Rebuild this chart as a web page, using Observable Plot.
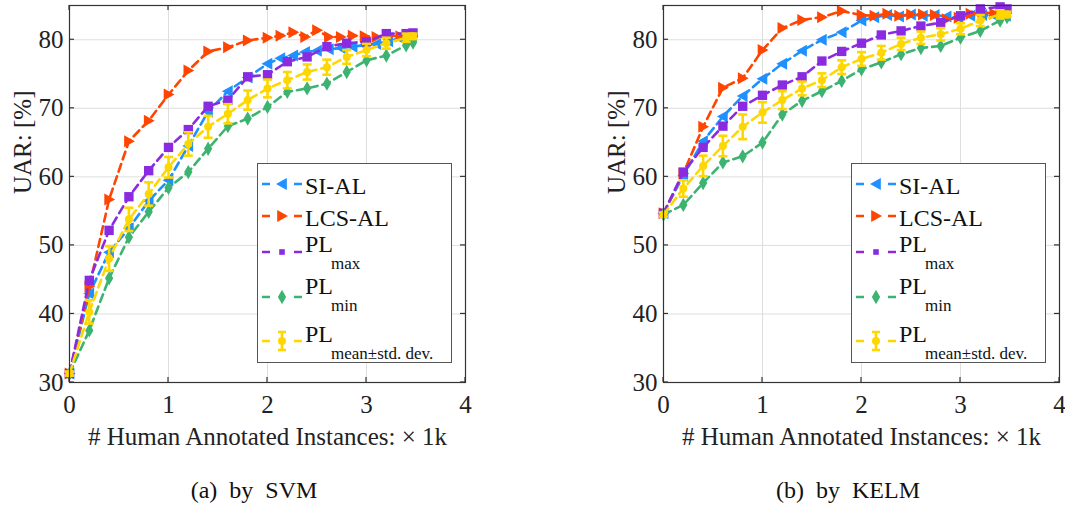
<!DOCTYPE html>
<html><head><meta charset="utf-8">
<script src="https://cdn.jsdelivr.net/npm/d3@7"></script>
<script src="https://cdn.jsdelivr.net/npm/@observablehq/plot@0.6"></script>
<style>
body{margin:0;background:#fff;font-family:"Liberation Serif","Times New Roman",Times,"DejaVu Serif",serif;}
#wrap{position:relative;width:1065px;height:509px;overflow:hidden;background:#fff}
.panel{position:absolute;top:0}
.caption{position:absolute;font-size:24px;text-align:center;width:300px;color:#111;word-spacing:6px}
.legend{position:absolute;box-sizing:border-box;border:1.5px solid #555;background:#fff;width:195px;height:200px}
svg text{font-family:"Liberation Serif","Times New Roman",Times,"DejaVu Serif",serif !important;}
</style></head>
<body><div id="wrap"></div>
<script>
// ---- data ----
const xTicks = [0, 1, 2, 3, 4];
const yTicks = [30, 40, 50, 60, 70, 80];
const alX = [0,0.2,0.4,0.6,0.8,1.0,1.2,1.4,1.6,1.8,2.0,2.13,2.26,2.38,2.5,2.62,2.74,2.86,2.98,3.1,3.22,3.34,3.46];
const plX = [0,0.2,0.4,0.6,0.8,1.0,1.2,1.4,1.6,1.8,2.0,2.2,2.4,2.6,2.8,3.0,3.2,3.4,3.47];

const svmSI   = [31.3,43,49,52.5,56.5,59.5,64.5,69.5,72.5,74.5,76.5,77.3,77.7,78.2,78.4,78.6,78.8,79,79.2,79.4,79.8,80.2,80.5];
const svmLCS  = [31.3,44,56.7,65.2,68.2,72,75.5,78.3,78.9,79.9,80.3,80.6,81.1,80.4,81.4,80.4,80.4,80.6,80.5,80.4,80.6,80.5,80.5];
const svmMax  = [31.3,44.9,52.2,57.1,60.9,64.3,66.9,70.3,71.2,74.6,74.9,76.8,77.5,79,79.5,79.7,80.9,80.9,81];
const svmMin  = [31.3,37.6,45.2,51.2,54.9,58.4,60.7,64.1,67.4,68.5,70.2,72.4,72.9,73.6,75.3,77,77.7,79.2,79.6];
const svmMean = [31.3,40.3,48.1,53.8,57.5,61.4,64.8,67.3,69.2,71.2,72.9,74.1,75.3,76,77.5,78.5,79.5,80.3,80.5];
const svmStd  = [0.3,1.7,1.8,1.7,1.7,1.5,1.7,1.6,1.4,1.4,1.3,1.2,1.1,1.1,1.0,0.9,0.8,0.6,0.4];

const kelmSI   = [54.7,60.2,65.2,68.8,71.8,74.3,76.5,78.4,80,81.1,82.8,83.3,83.6,83.4,83.7,83.5,83.6,83.4,83.2,83.5,83.6,83.5,83.5];
const kelmLCS  = [54.7,60.5,67.3,73,74.4,78.5,81.7,82.9,83.3,84.2,83.6,83.5,83.8,83.5,83.7,83.7,83.6,83.0,83.2,83.8,84.0,83.8,83.8];
const kelmMax  = [54.7,60.7,64.3,67.4,70.3,71.9,73.4,74.6,76.9,78.3,79.5,80.7,81.3,82,82.5,83.5,84.5,84.8,84.5];
const kelmMin  = [54.5,55.9,59.1,62.1,63,65,69.1,71.1,72.5,74,75.7,76.7,77.9,78.8,79.1,80.3,81.3,82.8,83.3];
const kelmMean = [54.5,58.3,61.6,64.5,67.3,69.4,71.2,72.9,74.1,76,77.2,78.1,79.4,80.3,80.8,81.6,82.8,83.7,83.7];
const kelmStd  = [0.3,1.2,1.5,1.5,1.8,1.5,1.3,1.0,1.0,1.0,1.0,1.0,0.9,0.9,0.9,0.8,0.8,0.6,0.4];

const seriesNames = ["SI-AL", "LCS-AL", "PL", "PL", "PL"];
const seriesSubs = ["", "", "max", "min", "mean\u00b1std. dev."];
const colors = ["#1E90FF", "#FF4500", "#8A2BE2", "#3CB371", "#FFD700"];
const xLabel = "# Human Annotated Instances: \u00d7 1k";
const yLabel = "UAR: [%]";
const captions = ["(a) by SVM", "(b) by KELM"];

// ---- symbols ----
const symLeft = {draw(c, s){const r=Math.sqrt(s/Math.PI); c.moveTo(-r,0); c.lineTo(r*0.8,-r); c.lineTo(r*0.8,r); c.closePath();}};
const symRight = {draw(c, s){const r=Math.sqrt(s/Math.PI); c.moveTo(r,0); c.lineTo(-r*0.8,-r); c.lineTo(-r*0.8,r); c.closePath();}};
const symSquare = {draw(c, s){const r=Math.sqrt(s/Math.PI)*0.85; c.rect(-r,-r,2*r,2*r);}};
const symDiamond = {draw(c, s){const r=Math.sqrt(s/Math.PI); c.moveTo(0,-1.3*r); c.lineTo(0.75*r,0); c.lineTo(0,1.3*r); c.lineTo(-0.75*r,0); c.closePath();}};
const symCap = {draw(c, s){const r=Math.sqrt(s/Math.PI); c.moveTo(-r,0); c.lineTo(r,0);}};
const symbols = [symLeft, symRight, symSquare, symDiamond, d3.symbolCircle];
const radii = [6, 6, 5.5, 5.5, 4];

const FONT = '"Liberation Serif","Times New Roman",Times,"DejaVu Serif",serif';
const wrap = document.getElementById("wrap");
const W = 396, H = 460, MT = 5, MB = 78, ML = 69;

function panel(left, width, si, lcs, mx, mn, mean, std, caption, capX) {
  const mk = (xs, ys) => xs.map((x, i) => ({x, y: ys[i]}));
  const sets = [mk(alX, si), mk(alX, lcs), mk(plX, mx), mk(plX, mn), plX.map((x, i) => ({x, y: mean[i], s: std[i]}))];
  const marks = [
    Plot.gridX(xTicks, {stroke: "#dedede", strokeOpacity: 1}),
    Plot.gridY(yTicks, {stroke: "#dedede", strokeOpacity: 1}),
    Plot.axisX(xTicks, {tickSize: 0, tickPadding: 13, fontSize: 25, label: null, fill: "#222"}),
    Plot.axisY(yTicks, {tickSize: 0, tickPadding: 6, fontSize: 25, label: null, fill: "#222"}),
  ];
  sets.forEach((d, k) => {
    marks.push(Plot.line(d, {x: "x", y: "y", stroke: colors[k], strokeWidth: 2.6, strokeDasharray: "8,5"}));
    if (k === 4) {
      marks.push(Plot.ruleX(d, {x: "x", y1: e => e.y - e.s, y2: e => e.y + e.s, stroke: colors[k], strokeWidth: 2.6}));
      marks.push(Plot.dot(d, {x: "x", y: e => e.y - e.s, symbol: symCap, r: 4.5, fill: "none", stroke: colors[k], strokeWidth: 2.6}));
      marks.push(Plot.dot(d, {x: "x", y: e => e.y + e.s, symbol: symCap, r: 4.5, fill: "none", stroke: colors[k], strokeWidth: 2.6}));
    }
    marks.push(Plot.dot(d, {x: "x", y: "y", symbol: symbols[k], r: radii[k], fill: colors[k], stroke: "none"}));
  });
  marks.push(Plot.frame({stroke: "#333", strokeWidth: 1.2}));
  marks.push(Plot.text([xLabel], {frameAnchor: "bottom", dy: 62, fontSize: 25, fill: "#222"}));
  marks.push(Plot.text([yLabel], {frameAnchor: "left", dx: -47, rotate: -90, fontSize: 25, fill: "#222"}));
  const svg = Plot.plot({
    width, height: H, marginLeft: ML, marginRight: width - ML - W, marginTop: MT, marginBottom: MB,
    x: {domain: [0, 4]}, y: {domain: [30, 85]},
    style: {fontFamily: FONT, background: "transparent", overflow: "visible"},
    marks
  });
  // inward ticks (MATLAB box style) using the plot's own scales
  const sx = svg.scale("x"), sy = svg.scale("y");
  const g = d3.select(svg).append("g").attr("stroke", "#333").attr("stroke-width", 1.2);
  const x0 = sx.apply(0), x1 = sx.apply(4), y0 = sy.apply(30), y1 = sy.apply(85), L = 5;
  yTicks.forEach(t => { const y = sy.apply(t);
    g.append("line").attr("x1", x0).attr("x2", x0 + L).attr("y1", y).attr("y2", y);
    g.append("line").attr("x1", x1 - L).attr("x2", x1).attr("y1", y).attr("y2", y); });
  xTicks.forEach(t => { const x = sx.apply(t);
    g.append("line").attr("x1", x).attr("x2", x).attr("y1", y0).attr("y2", y0 - L);
    g.append("line").attr("x1", x).attr("x2", x).attr("y1", y1).attr("y2", y1 + L); });
  const div = document.createElement("div");
  div.className = "panel"; div.style.left = left + "px";
  div.appendChild(svg);
  wrap.appendChild(div);
  const cap = document.createElement("div");
  cap.className = "caption"; cap.textContent = caption;
  cap.style.left = (capX - 150) + "px"; cap.style.top = "477px";
  wrap.appendChild(cap);
  // legend
  const lg = document.createElement("div");
  lg.className = "legend";
  lg.style.left = (left + ML + 188) + "px"; lg.style.top = "163px";
  wrap.appendChild(lg);
  const ls = d3.select(lg).append("svg").attr("width", 192).attr("height", 197).style("display", "block");
  const rowY = [20, 52, 88, 133, 177];
  const textY = [22, 54, 80, 122, 170];
  seriesNames.forEach((n, k) => {
    const y = rowY[k];
    ls.append("line").attr("x1", 4).attr("x2", 44).attr("y1", y).attr("y2", y)
      .attr("stroke", colors[k]).attr("stroke-width", 2.6).attr("stroke-dasharray", "8 24");
    if (k === 4) {
      ls.append("line").attr("x1", 24).attr("x2", 24).attr("y1", y - 9).attr("y2", y + 9).attr("stroke", colors[k]).attr("stroke-width", 2.6);
      ls.append("line").attr("x1", 20).attr("x2", 28).attr("y1", y - 9).attr("y2", y - 9).attr("stroke", colors[k]).attr("stroke-width", 2.6);
      ls.append("line").attr("x1", 20).attr("x2", 28).attr("y1", y + 9).attr("y2", y + 9).attr("stroke", colors[k]).attr("stroke-width", 2.6);
    }
    const sz = k === 2 ? 3.3 : radii[k];
    ls.append("path").attr("transform", `translate(24,${y})`)
      .attr("d", d3.symbol(symbols[k], sz * sz * Math.PI)()).attr("fill", colors[k]);
    ls.append("text").attr("x", 47).attr("y", textY[k]).attr("dominant-baseline", "central")
      .attr("font-size", 24).attr("fill", "#111").text(n);
    if (seriesSubs[k]) {
      ls.append("text").attr("x", 73).attr("y", textY[k] + 19).attr("dominant-baseline", "central")
        .attr("font-size", 17).attr("fill", "#111").text(seriesSubs[k]);
    }
  });
}

panel(0, 532, svmSI, svmLCS, svmMax, svmMin, svmMean, svmStd, captions[0], 254);
panel(594, 471, kelmSI, kelmLCS, kelmMax, kelmMin, kelmMean, kelmStd, captions[1], 848);
</script>
</body></html>
